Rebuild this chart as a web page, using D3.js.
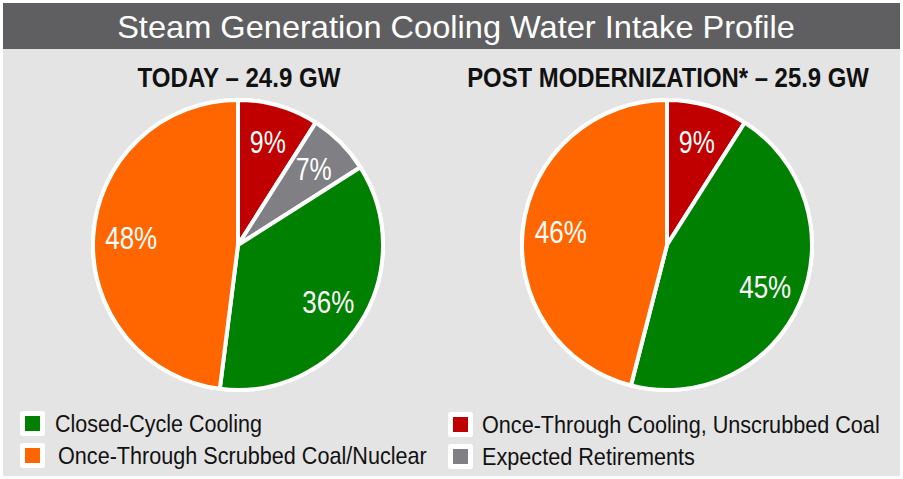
<!DOCTYPE html>
<html>
<head>
<meta charset="utf-8">
<script src="https://cdn.jsdelivr.net/npm/d3@7"></script>
<style>
  body { margin: 0; background: #fff; }
  svg { display: block; }
  text { font-family: "Liberation Sans Narrow", "Arial Narrow", "Liberation Sans", sans-serif; }
</style>
</head>
<body>
<script>
// data
const categories = ["Once-Through Cooling, Unscrubbed Coal", "Expected Retirements", "Closed-Cycle Cooling", "Once-Through Scrubbed Coal/Nuclear"];
const colors = ["#c00000", "#7f7f84", "#008000", "#ff6600"];
const todayValues = [9, 7, 36, 48];
const postValues = [9, 0, 45, 46];
const pieTitles = ["TODAY \u2013 24.9 GW", "POST MODERNIZATION* \u2013 25.9 GW"];
const legendOrder = [2, 3, 0, 1];

const width = 903, height = 479;
const svg = d3.select("body").append("svg").attr("width", width).attr("height", height);

svg.append("rect").attr("x", 3).attr("y", 3).attr("width", width - 6).attr("height", height - 6).attr("fill", "#e4e4e4");
svg.append("rect").attr("x", 3).attr("y", 3).attr("width", width - 6).attr("height", 46).attr("fill", "#5f5f61");

// condensed text: squeeze horizontally so it spans w pixels
function squeezed(parent, x, y, str, size, w, anchor, attrs) {
  const g = parent.append("g");
  const t = g.append("text").attr("font-size", size).attr("text-anchor", anchor).text(str);
  Object.entries(attrs || {}).forEach(([k, v]) => t.attr(k, v));
  const s = w / t.node().getComputedTextLength();
  g.attr("transform", `translate(${x},${y}) scale(${s},1)`);
  return g;
}

squeezed(svg, 456, 38, "Steam Generation Cooling Water Intake Profile", 32, 678, "middle", { fill: "#fff" });

const pie = d3.pie().sort(null).value(d => d);
const r = 145;
const arc = d3.arc().innerRadius(0).outerRadius(r);
const labelArc = d3.arc().innerRadius(107).outerRadius(107);

const pies = [
  { values: todayValues, cx: 238, cy: 245, title: pieTitles[0], tw: 203 },
  { values: postValues, cx: 667, cy: 245, title: pieTitles[1], tw: 402 }
];

pies.forEach(p => {
  squeezed(svg, p.cx + 1, 87, p.title, 28, p.tw, "middle", { "font-weight": "bold", fill: "#111" });

  const g = svg.append("g").attr("transform", `translate(${p.cx},${p.cy})`);
  g.append("circle").attr("r", r + 2).attr("fill", "#fff");
  const arcs = pie(p.values).map((d, i) => Object.assign(d, { i })).filter(d => d.value > 0);
  g.selectAll("path").data(arcs).join("path")
    .attr("d", arc).attr("fill", d => colors[d.i])
    .attr("stroke", "#fff").attr("stroke-width", 4).attr("stroke-linejoin", "round");
  arcs.forEach(d => {
    const [lx, ly] = labelArc.centroid(d);
    const str = d.value + "%";
    squeezed(g, lx, ly + 11, str, 31, str.length === 2 ? 36 : 52, "middle", { fill: "#fff" });
  });
});

// legend
const legendPos = [[20, 411, 55, 207], [20, 443, 58, 369], [448, 412, 482, 398], [448, 444, 482, 213]];
legendOrder.forEach((ci, k) => {
  const [bx, by, tx, tw] = legendPos[k];
  const g = svg.append("g");
  g.append("rect").attr("x", bx).attr("y", by).attr("width", 25).attr("height", 25).attr("rx", 3).attr("fill", "#fff");
  g.append("rect").attr("x", bx + 5).attr("y", by + 5).attr("width", 15).attr("height", 15).attr("fill", colors[ci]);
  squeezed(g, tx, by + 21, categories[ci], 24, tw, "start", { fill: "#111" });
});
</script>
</body>
</html>
